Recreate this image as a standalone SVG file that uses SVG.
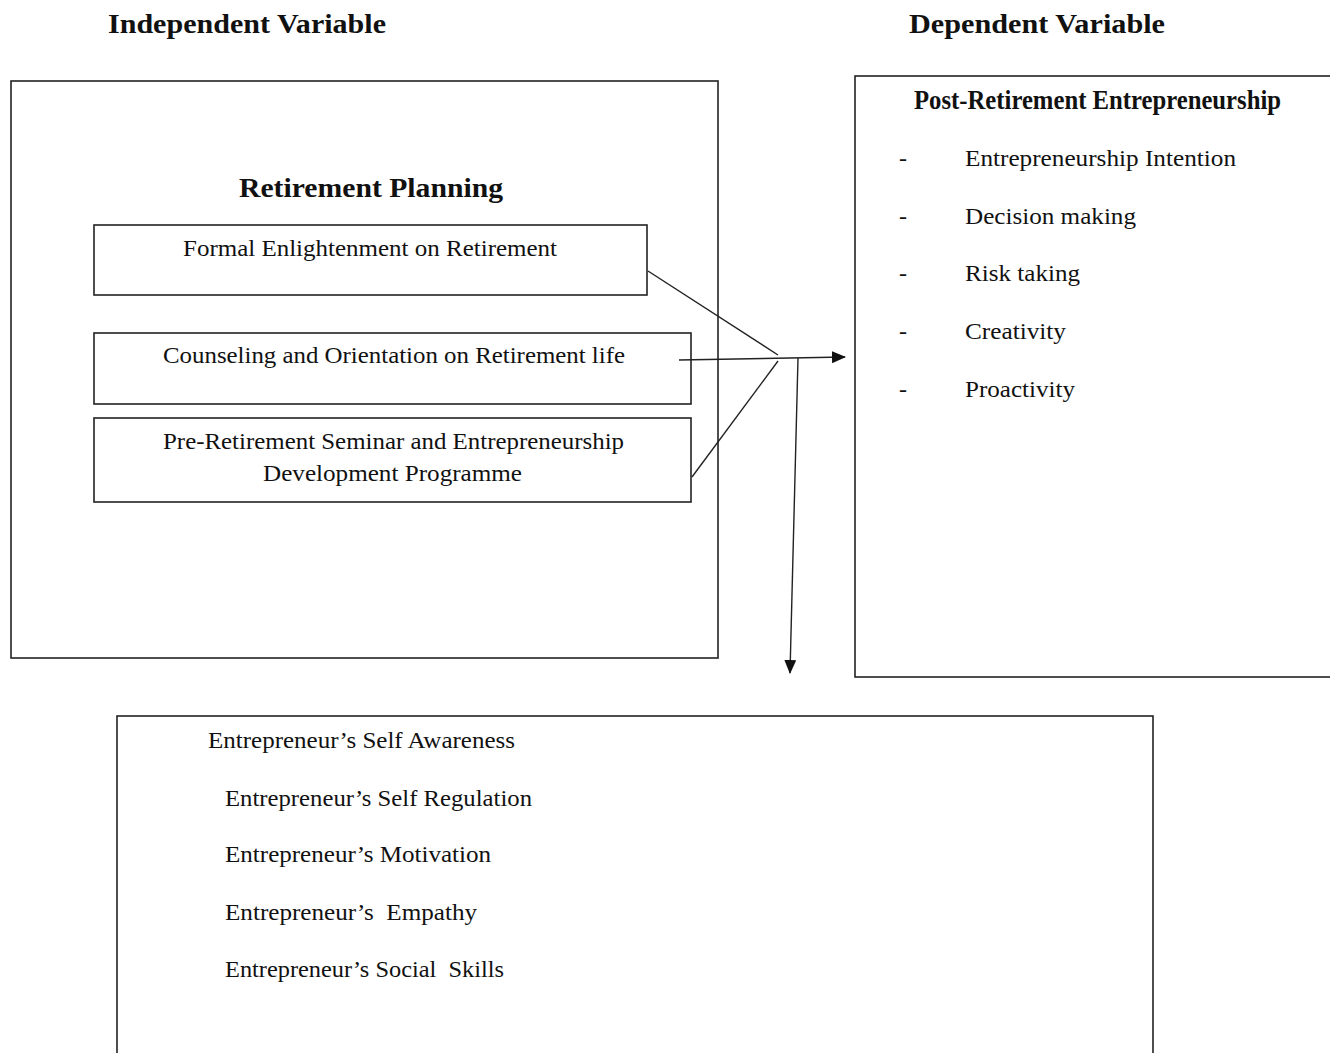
<svg xmlns="http://www.w3.org/2000/svg" width="1330" height="1053" viewBox="0 0 1330 1053">
<style>
.box{fill:#fff;stroke:#222;stroke-width:1.6}
.t{font-family:"Liberation Serif",serif;font-size:24px;fill:#111}
.b{font-family:"Liberation Serif",serif;font-size:27px;font-weight:bold;fill:#111}
.c{stroke:#222;stroke-width:1.4;fill:none}
</style>
<defs>
<marker id="ah" markerWidth="14" markerHeight="12" refX="13" refY="6" orient="auto" markerUnits="userSpaceOnUse">
<path d="M0,0 L14,6 L0,12 Z" fill="#111"/>
</marker>
</defs>
<rect width="1330" height="1053" fill="#fff"/>
<text class="b" x="108" y="33" textLength="278" lengthAdjust="spacingAndGlyphs">Independent Variable</text>
<text class="b" x="909" y="33" textLength="256" lengthAdjust="spacingAndGlyphs">Dependent Variable</text>
<g id="independent">
<rect class="box" x="11" y="81" width="707" height="577"/>
<text class="b" x="239" y="197" textLength="264" lengthAdjust="spacingAndGlyphs">Retirement Planning</text>
</g>
<g id="formal">
<rect class="box" x="94" y="225" width="553" height="70"/>
<text class="t" x="183" y="256" textLength="374" lengthAdjust="spacingAndGlyphs">Formal Enlightenment on Retirement</text>
</g>
<g id="counseling">
<rect class="box" x="94" y="333" width="597" height="71"/>
<text class="t" x="163" y="363" textLength="462" lengthAdjust="spacingAndGlyphs">Counseling and Orientation on Retirement life</text>
</g>
<g id="seminar">
<rect class="box" x="94" y="418" width="597" height="84"/>
<text class="t" x="163" y="449" textLength="461" lengthAdjust="spacingAndGlyphs">Pre-Retirement Seminar and Entrepreneurship</text>
<text class="t" x="263" y="481" textLength="259" lengthAdjust="spacingAndGlyphs">Development Programme</text>
</g>
<g id="dependent">
<rect class="box" x="855" y="76" width="480" height="601"/>
<text class="b" x="914" y="109" font-size="22" textLength="367" lengthAdjust="spacingAndGlyphs">Post-Retirement Entrepreneurship</text>
<text class="t" x="899" y="166">-</text>
<text class="t" x="965" y="166" textLength="271" lengthAdjust="spacingAndGlyphs">Entrepreneurship Intention</text>
<text class="t" x="899" y="224">-</text>
<text class="t" x="965" y="224" textLength="171" lengthAdjust="spacingAndGlyphs">Decision making</text>
<text class="t" x="899" y="281">-</text>
<text class="t" x="965" y="281" textLength="115" lengthAdjust="spacingAndGlyphs">Risk taking</text>
<text class="t" x="899" y="339">-</text>
<text class="t" x="965" y="339" textLength="101" lengthAdjust="spacingAndGlyphs">Creativity</text>
<text class="t" x="899" y="397">-</text>
<text class="t" x="965" y="397" textLength="110" lengthAdjust="spacingAndGlyphs">Proactivity</text>
</g>
<g id="moderator">
<rect class="box" x="117" y="716" width="1036" height="350"/>
<text class="t" x="208" y="748" textLength="307" lengthAdjust="spacingAndGlyphs">Entrepreneur’s Self Awareness</text>
<text class="t" x="225" y="806" textLength="307" lengthAdjust="spacingAndGlyphs">Entrepreneur’s Self Regulation</text>
<text class="t" x="225" y="862" textLength="266" lengthAdjust="spacingAndGlyphs">Entrepreneur’s Motivation</text>
<text class="t" x="225" y="920" textLength="252" lengthAdjust="spacingAndGlyphs" xml:space="preserve">Entrepreneur’s  Empathy</text>
<text class="t" x="225" y="977" textLength="279" lengthAdjust="spacingAndGlyphs" xml:space="preserve">Entrepreneur’s Social  Skills</text>
</g>
<g id="connectors">
<line class="c" x1="648" y1="271" x2="778" y2="355"/>
<line class="c" x1="692" y1="477" x2="778" y2="361"/>
<line class="c" x1="679" y1="360" x2="845" y2="357" marker-end="url(#ah)"/>
<line class="c" x1="798" y1="358" x2="790" y2="673" marker-end="url(#ah)"/>
</g>
</svg>
